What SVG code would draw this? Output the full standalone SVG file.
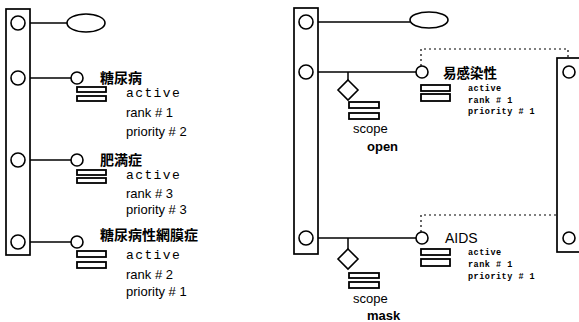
<svg xmlns="http://www.w3.org/2000/svg" width="579" height="322" viewBox="0 0 579 322">
<style>
.ln{stroke:#000;stroke-width:1.5;fill:none}
.bar{stroke:#000;stroke-width:1.7;fill:#fff}
.c{stroke:#000;stroke-width:1.6;fill:#fff}
.r{stroke:#000;stroke-width:1.8;fill:#fff}
.dot{stroke:#000;stroke-width:1.2;fill:none;stroke-dasharray:2 3}
.cjk{font-family:"Noto Sans CJK JP","Noto Sans CJK SC",sans-serif;font-weight:bold;font-size:14px;fill:#000}
.mono{font-family:"Liberation Mono","DejaVu Sans Mono",monospace;font-size:13px;letter-spacing:1.4px;fill:#000}
.sans{font-family:"Liberation Sans",Arial,sans-serif;font-size:13px;fill:#000}
.sm{font-family:"Liberation Mono","DejaVu Sans Mono",monospace;font-weight:bold;font-size:8.5px;letter-spacing:0.5px;fill:#000}
.sc{font-family:"Liberation Sans",Arial,sans-serif;font-size:13px;fill:#000}
.scb{font-family:"Liberation Sans",Arial,sans-serif;font-size:13px;font-weight:bold;fill:#000}
</style>
<g id="connectors">
<line class="ln" x1="25" y1="23" x2="67" y2="23"/>
<line class="ln" x1="25" y1="78" x2="71" y2="78"/>
<line class="ln" x1="25" y1="160" x2="71" y2="160"/>
<line class="ln" x1="25" y1="242" x2="71" y2="242"/>
<line class="ln" x1="313" y1="22" x2="410" y2="22"/>
<line class="ln" x1="313" y1="72" x2="416" y2="72"/>
<line class="ln" x1="313" y1="238" x2="416" y2="238"/>
<line class="ln" x1="348" y1="72" x2="348" y2="80"/>
<line class="ln" x1="348" y1="238" x2="348" y2="249"/>
<polyline class="dot" points="421,66 421,49 568,49 568,66"/>
<polyline class="dot" points="421,232 421,215 568,215 568,232"/>
</g>
<g id="left-bar">
<rect class="bar" x="6" y="9" width="24" height="246"/>
<circle class="c" cx="18" cy="23" r="7"/>
<circle class="c" cx="18" cy="78" r="7"/>
<circle class="c" cx="18" cy="160" r="7"/>
<circle class="c" cx="18" cy="242" r="7"/>
</g>
<g id="left-ellipse"><ellipse class="c" cx="86" cy="23" rx="19" ry="9"/></g>
<g id="node-tonyobyo">
<circle class="c" cx="77" cy="78" r="6"/>
<text class="cjk" x="100" y="83">糖尿病</text>
<rect class="r" x="77" y="87" width="29" height="5"/>
<rect class="r" x="77" y="96" width="29" height="5"/>
<text class="mono" x="126" y="97">active</text>
<text class="sans" x="126" y="117">rank # 1</text>
<text class="sans" x="126" y="136">priority # 2</text>
</g>
<g id="node-himansho">
<circle class="c" cx="77" cy="160" r="6"/>
<text class="cjk" x="100" y="165">肥満症</text>
<rect class="r" x="77" y="170" width="29" height="5"/>
<rect class="r" x="77" y="178" width="29" height="5"/>
<text class="mono" x="126" y="179">active</text>
<text class="sans" x="126" y="198">rank # 3</text>
<text class="sans" x="126" y="214">priority # 3</text>
</g>
<g id="node-moumakusho">
<circle class="c" cx="77" cy="242" r="6"/>
<text class="cjk" x="100" y="240">糖尿病性網膜症</text>
<rect class="r" x="77" y="251" width="29" height="6"/>
<rect class="r" x="77" y="262" width="29" height="6"/>
<text class="mono" x="126" y="259">active</text>
<text class="sans" x="126" y="279">rank # 2</text>
<text class="sans" x="126" y="296">priority # 1</text>
</g>
<g id="right-bar">
<rect class="bar" x="294" y="8" width="24" height="246"/>
<circle class="c" cx="306" cy="22" r="7"/>
<circle class="c" cx="306" cy="72" r="7"/>
<circle class="c" cx="306" cy="238" r="7"/>
</g>
<g id="right-ellipse"><ellipse class="c" cx="429" cy="20" rx="19" ry="8"/></g>
<g id="far-right-bar">
<rect class="bar" x="557" y="58" width="26" height="194"/>
<circle class="c" cx="569" cy="72" r="6"/>
<circle class="c" cx="569" cy="238" r="6"/>
</g>
<g id="scope-open">
<polygon class="c" points="348,80 358,90 348,100 338,90"/>
<rect class="r" x="349" y="102" width="30" height="6"/>
<rect class="r" x="349" y="113" width="30" height="6"/>
<text class="sc" x="353" y="133">scope</text>
<text class="scb" x="367" y="151">open</text>
</g>
<g id="node-ikansensei">
<circle class="c" cx="422" cy="72" r="6"/>
<text class="cjk" x="443" y="78" style="font-size:13.5px">易感染性</text>
<rect class="r" x="421" y="85" width="29" height="6"/>
<rect class="r" x="421" y="94" width="29" height="7"/>
<text class="sm" x="468" y="91">active</text>
<text class="sm" x="468" y="103">rank # 1</text>
<text class="sm" x="468" y="114">priority # 1</text>
</g>
<g id="scope-mask">
<polygon class="c" points="348,249 358,259 348,269 338,259"/>
<rect class="r" x="349" y="273" width="30" height="5"/>
<rect class="r" x="349" y="282" width="30" height="6"/>
<text class="sc" x="353" y="303">scope</text>
<text class="scb" x="367" y="320">mask</text>
</g>
<g id="node-aids">
<circle class="c" cx="422" cy="238" r="6"/>
<text class="sc" x="445" y="243" style="font-size:14px">AIDS</text>
<rect class="r" x="421" y="249" width="29" height="6"/>
<rect class="r" x="421" y="259" width="29" height="7"/>
<text class="sm" x="468" y="255">active</text>
<text class="sm" x="468" y="267">rank # 1</text>
<text class="sm" x="468" y="279">priority # 1</text>
</g>
</svg>
